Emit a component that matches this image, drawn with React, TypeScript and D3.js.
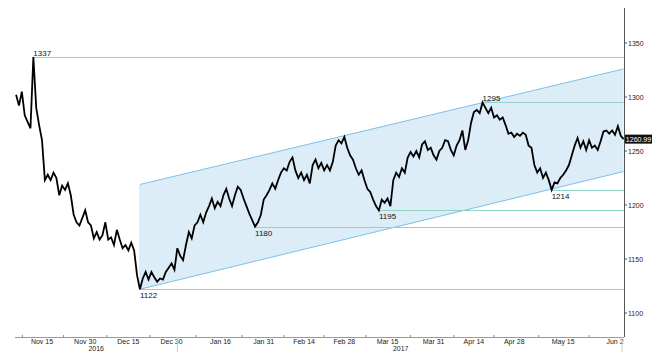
import React, { useMemo } from "react";
import * as d3 from "d3";

const WIDTH = 657;
const HEIGHT = 359;

// daily series, first value on 2016-11-06
const startDate = new Date(Date.UTC(2016, 10, 6));
const prices = [
  1302, 1292, 1305, 1283, 1277, 1271, 1337, 1290, 1274, 1260,
  1223, 1228, 1223, 1230, 1225, 1209, 1218, 1214, 1220, 1209,
  1191, 1184, 1181, 1188, 1195, 1184, 1181, 1169, 1175, 1168,
  1172, 1184, 1168, 1170, 1163, 1177, 1168, 1160, 1163, 1158,
  1165, 1158, 1135, 1122, 1132, 1138, 1131, 1138, 1133, 1129,
  1132, 1131, 1138, 1142, 1146, 1140, 1160, 1153, 1149, 1163,
  1175, 1169, 1181, 1184, 1191, 1184, 1193, 1199, 1206, 1197,
  1203, 1199, 1209, 1215, 1206, 1199, 1209, 1217, 1214, 1206,
  1199, 1192, 1186, 1180, 1184, 1191, 1205, 1209, 1214, 1220,
  1215, 1223, 1230, 1234, 1232, 1240, 1244, 1232, 1225, 1230,
  1223, 1228, 1220, 1237, 1242, 1234, 1239, 1232, 1237, 1232,
  1240, 1255, 1260, 1257, 1263, 1253, 1246, 1242, 1234, 1228,
  1232, 1223, 1215, 1212, 1205, 1199, 1195, 1205, 1202, 1206,
  1199, 1223, 1230, 1226, 1234, 1230, 1244, 1249, 1245, 1250,
  1244, 1256, 1259, 1251, 1253, 1246, 1242, 1250, 1253, 1260,
  1259, 1251, 1246, 1255, 1260, 1269, 1251, 1260, 1276, 1286,
  1288, 1285, 1295, 1290, 1285, 1290, 1281, 1283, 1279, 1281,
  1274, 1266, 1267, 1263, 1266, 1264, 1267, 1265, 1255, 1253,
  1237, 1230, 1234, 1225, 1230, 1223, 1214, 1221, 1220, 1225,
  1228, 1232, 1237, 1246, 1255, 1262, 1253, 1259, 1251, 1260,
  1253, 1255, 1251, 1259, 1268, 1269, 1266, 1269, 1265, 1273,
  1264, 1260.99,
];

const lastPrice = "1260.99";

// regression channel
const channelDates = ["2016-12-19", "2017-06-05"];
const channelUpper = [1219, 1326];
const channelLower = [1122, 1231];

// support / resistance levels, starting at the pivot
const levelValues = [1337, 1122, 1180, 1195, 1295, 1214];
const levelDates = ["2016-11-12", "2016-12-19", "2017-01-28", "2017-03-12", "2017-04-17", "2017-05-11"];
const levelAbove = [true, false, false, false, true, false];

const xTickDates = [
  "2016-11-15", "2016-11-30", "2016-12-15", "2016-12-30", "2017-01-16",
  "2017-01-31", "2017-02-14", "2017-02-28", "2017-03-15", "2017-03-31",
  "2017-04-14", "2017-04-28", "2017-05-15", "2017-06-02",
];
const yTicks = [1100, 1150, 1200, 1250, 1300, 1350];
const years = ["2016", "2017"];

const FONT = "'Liberation Sans Narrow', 'Arial Narrow', 'Liberation Sans', sans-serif";
const AXIS_RIGHT = 624;
const AXIS_BOTTOM = 337;
const AXIS_LEFT = 15;

const parse = d3.utcParse("%Y-%m-%d");
const fmt = d3.utcFormat("%b %-d");

export default function App() {
  const x = useMemo(
    () => d3.scaleUtc().domain([parse("2016-11-15")!, parse("2017-06-02")!]).range([42, 615]),
    []
  );
  const y = useMemo(() => d3.scaleLinear().domain([1100, 1350]).range([313, 43]), []);

  const series = prices.map((p, i) => ({ date: d3.utcDay.offset(startDate, i), value: p }));

  const line = d3
    .line<{ date: Date; value: number }>()
    .x((d) => x(d.date))
    .y((d) => y(d.value));

  const cDates = channelDates.map((d) => parse(d)!);
  const channelPts = cDates.map((d, i) => ({ date: d, hi: channelUpper[i], lo: channelLower[i] }));
  const area = d3
    .area<{ date: Date; hi: number; lo: number }>()
    .x((d) => x(d.date))
    .y0((d) => y(d.lo))
    .y1((d) => y(d.hi));

  const tickDates = xTickDates.map((d) => parse(d)!);
  const minorTicks = tickDates.map((d, i) => {
    if (i === 0) return x(d) - (x(tickDates[1]) - x(d)) / 2 + 2;
    return (x(tickDates[i - 1]) + x(d)) / 2;
  });

  const yearBreak = x(parse("2017-01-01")!);
  const yearCenters = [(AXIS_LEFT + yearBreak) / 2, (yearBreak + AXIS_RIGHT) / 2];

  const last = series[series.length - 1];

  return (
    <svg
      width={WIDTH}
      height={HEIGHT}
      style={{ position: "absolute", left: 0, top: 0, background: "#fff" }}
    >
      {/* channel */}
      <path d={area(channelPts) ?? ""} fill="#dcedf8" />
      <line
        x1={x(cDates[0])} x2={x(cDates[1])}
        y1={y(channelUpper[0])} y2={y(channelUpper[1])}
        stroke="#7cc1ea" strokeWidth={1}
      />
      <line
        x1={x(cDates[0])} x2={x(cDates[1])}
        y1={y(channelLower[0])} y2={y(channelLower[1])}
        stroke="#7cc1ea" strokeWidth={1}
      />
      <line
        x1={x(cDates[0])} x2={x(cDates[0])}
        y1={y(channelUpper[0])} y2={y(channelLower[0])}
        stroke="#cfe6f5" strokeWidth={1}
      />

      {/* levels */}
      {levelValues.map((v, i) => {
        const lx = x(parse(levelDates[i])!);
        const ly = Math.round(y(v)) + 0.5;
        return (
          <g key={v}>
            <line x1={lx} x2={AXIS_RIGHT} y1={ly} y2={ly} stroke="#8fd4c6" strokeWidth={1} />
            <text
              x={lx}
              y={levelAbove[i] ? ly - 2 : ly + 8}
              fontSize={8}
              fontFamily={FONT}
              fill="#111"
            >
              {v}
            </text>
          </g>
        );
      })}

      {/* price */}
      <path
        d={line(series) ?? ""}
        fill="none"
        stroke="#000"
        strokeWidth={1.8}
        strokeLinejoin="miter"
      />

      {/* x axis */}
      <line x1={AXIS_LEFT} x2={AXIS_RIGHT} y1={AXIS_BOTTOM + 0.5} y2={AXIS_BOTTOM + 0.5} stroke="#999" />
      {minorTicks.map((t, i) => (
        <line key={i} x1={t} x2={t} y1={AXIS_BOTTOM - 2} y2={AXIS_BOTTOM} stroke="#888" />
      ))}
      {tickDates.map((d, i) => (
        <text
          key={i}
          x={x(d)}
          y={344}
          textAnchor="middle"
          fontSize={7}
          fontFamily={FONT}
          fill="#222"
        >
          {fmt(d)}
        </text>
      ))}
      {years.map((yr, i) => (
        <text
          key={yr}
          x={yearCenters[i]}
          y={351}
          textAnchor="middle"
          fontSize={7}
          fontFamily={FONT}
          fill="#222"
        >
          {yr}
        </text>
      ))}
      <line x1={yearBreak} x2={yearBreak} y1={AXIS_BOTTOM} y2={352} stroke="#ccc" />
      <line x1={AXIS_RIGHT - 2} x2={AXIS_RIGHT - 2} y1={AXIS_BOTTOM} y2={352} stroke="#ccc" />

      {/* y axis */}
      <line x1={AXIS_RIGHT + 0.5} x2={AXIS_RIGHT + 0.5} y1={8} y2={AXIS_BOTTOM} stroke="#555" />
      {yTicks.map((t) => (
        <g key={t}>
          <line x1={AXIS_RIGHT} x2={AXIS_RIGHT + 3} y1={y(t)} y2={y(t)} stroke="#555" />
          <text
            x={AXIS_RIGHT + 4}
            y={y(t) + 2.5}
            fontSize={7}
            fontFamily={FONT}
            fill="#222"
          >
            {t}
          </text>
        </g>
      ))}

      {/* last price tag */}
      <rect x={AXIS_RIGHT + 1} y={y(last.value) - 4.5} width={27} height={9} fill="#111" />
      <text
        x={AXIS_RIGHT + 14.5}
        y={y(last.value) + 2.5}
        textAnchor="middle"
        fontSize={7}
        fontFamily={FONT}
        fill="#fff"
      >
        {lastPrice}
      </text>
    </svg>
  );
}
